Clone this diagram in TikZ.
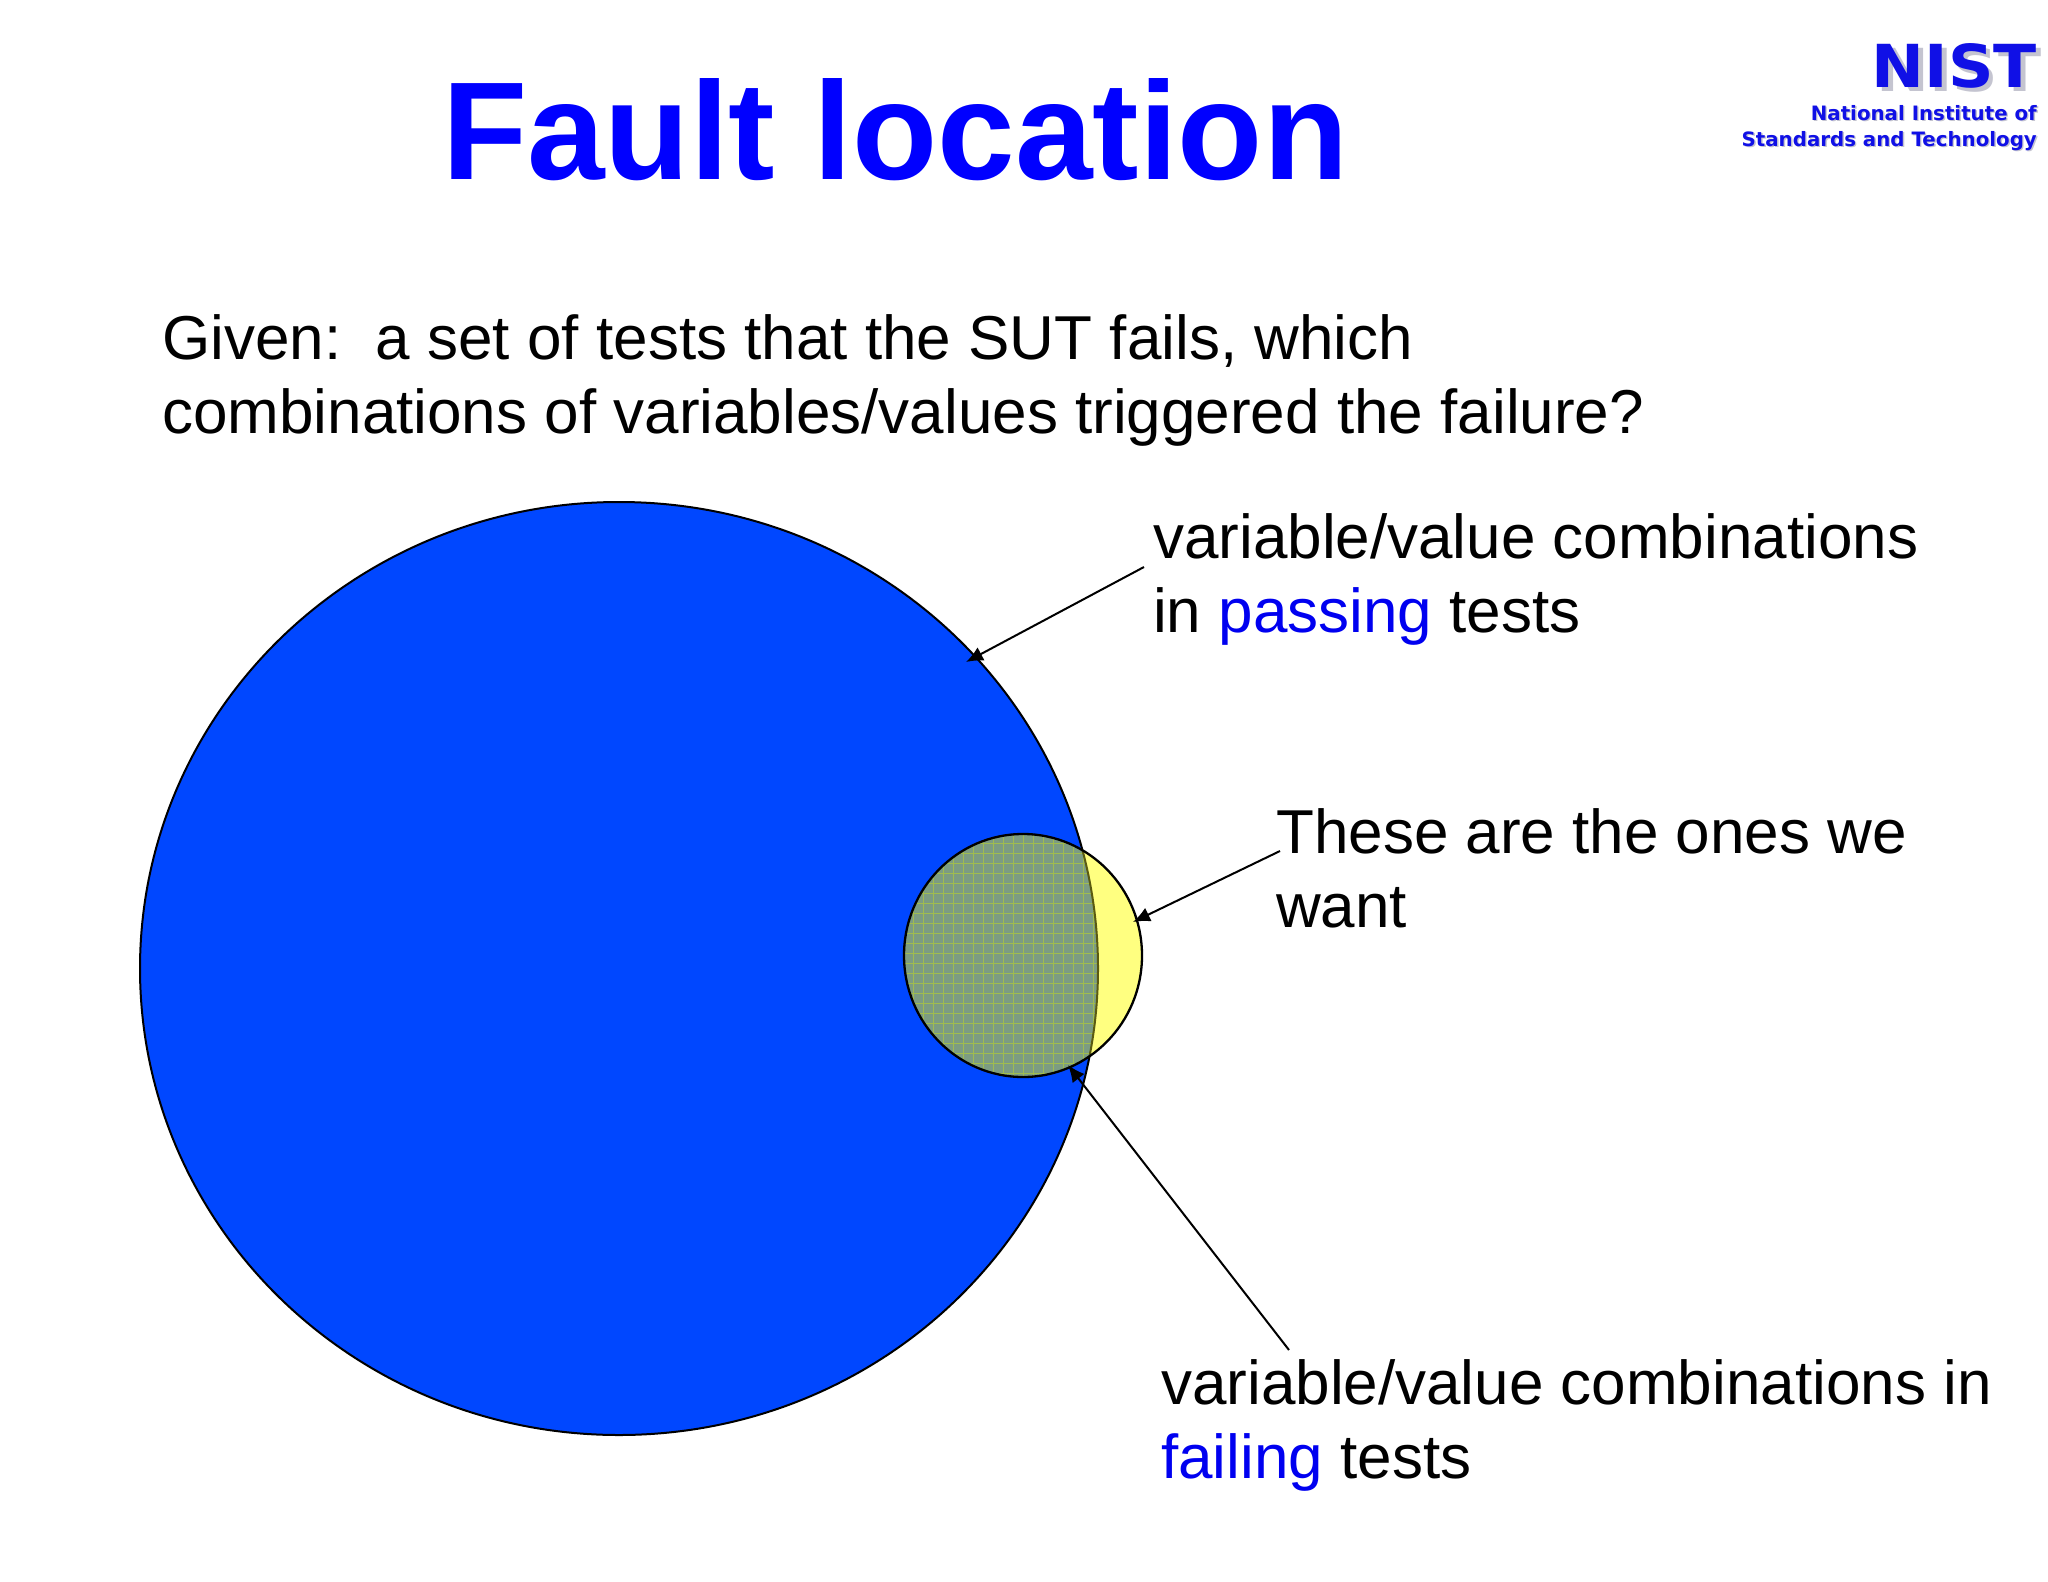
\documentclass[tikz,border=0pt]{standalone}
\usepackage{fontspec}
\usepackage{graphicx}
\usetikzlibrary{arrows.meta}
\setmainfont{Liberation Sans}
\newfontfamily\logofont{DejaVu Sans}
\definecolor{titleblue}{HTML}{0000FF}
\definecolor{wordblue}{HTML}{0000F0}
\definecolor{setblue}{HTML}{0047FF}
\definecolor{setyellow}{HTML}{FFFF80}
\definecolor{setgreen}{HTML}{7C9C82}
\definecolor{gridgreen}{HTML}{A0BC50}
\definecolor{setedge}{HTML}{5A5A10}
\definecolor{logoblue}{HTML}{1010E6}
\definecolor{logoshadow}{HTML}{C4C4D0}
\newcommand{\shadowtext}[1]{\leavevmode\rlap{\hspace{0.07em}\raisebox{-0.07em}{\textcolor{logoshadow}{#1}}}\textcolor{logoblue}{#1}}
\begin{document}
\begin{tikzpicture}[x=1pt,y=-1pt,
    label/.style={anchor=north west,inner sep=0pt,align=left,font=\fontsize{62}{74.6}\selectfont},
    logo/.style={anchor=north east,inner sep=0pt,align=right,font=\logofont\bfseries\fontsize{19.8}{26}\selectfont},
    pointer/.style={line width=2pt,-{Latex[length=17pt,width=15pt]}}]
  \useasboundingbox (0,0) rectangle (2048,1582);
  % the two sets
  \draw[line width=2pt,fill=setblue] (619,968.5) ellipse [x radius=479,y radius=466.5];
  \fill[setyellow] (1023,955.5) ellipse [x radius=119,y radius=121.5];
  \begin{scope}
    \clip (1023,955.5) ellipse [x radius=119,y radius=121.5];
    \begin{scope}
      \clip (619,968.5) ellipse [x radius=479,y radius=466.5];
      \fill[setgreen] (900,830) rectangle (1145,1080);
      \foreach \i in {-12,...,12} {
        \draw[gridgreen,line width=0.9pt] (1023+\i*10,830) -- (1023+\i*10,1080);
        \draw[gridgreen,line width=0.9pt] (900,953+\i*10) -- (1145,953+\i*10);
      }
    \end{scope}
    \draw[setedge,line width=2pt] (619,968.5) ellipse [x radius=479,y radius=466.5];
  \end{scope}
  \draw[line width=2.3pt] (1023,955.5) ellipse [x radius=119,y radius=121.5];
  % texts
  \node (title) [anchor=base west,inner sep=0pt,text=titleblue,font=\fontsize{139.4}{150}\selectfont\bfseries] at (442,179) {Fault location};
  \node (given) [label] at (162,314) {Given:\ \ a set of tests that the SUT fails, which\\combinations of variables/values triggered the failure?};
  \node (passing) [label] at (1153,513) {variable/value combinations\\in \textcolor{wordblue}{passing} tests};
  \node (want) [label] at (1276,808) {These are the ones we\\want};
  \node (failing) [label] at (1161,1359) {variable/value combinations in\\\textcolor{wordblue}{failing} tests};
  % logo
  \node (nist) [anchor=north east,inner sep=0pt,font=\logofont\bfseries] at (2037,43) {\resizebox{165pt}{44pt}{\shadowtext{NIST}}};
  \node (institute) [logo] at (2037,105) {\shadowtext{National Institute of}\\\shadowtext{Standards and Technology}};
  % pointers
  \coordinate (passingend) at (1144,567);
  \coordinate (passingtip) at (966,662);
  \coordinate (wantend) at (1280,851);
  \coordinate (wanttip) at (1133,922);
  \coordinate (failingend) at (1289,1350);
  \coordinate (failingtip) at (1068,1065);
  \path (passingend) edge[pointer] (passingtip);
  \path (wantend) edge[pointer] (wanttip);
  \path (failingend) edge[pointer] (failingtip);
\end{tikzpicture}
\end{document}
